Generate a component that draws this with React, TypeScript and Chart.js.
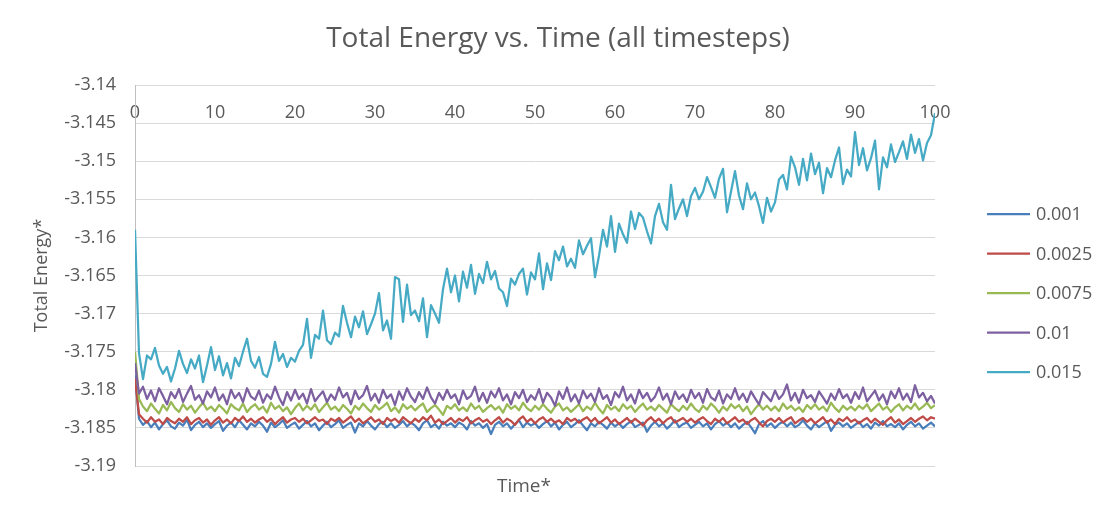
import { useEffect, useRef } from "react";
import Chart from "chart.js/auto";

// Excel-style line chart: total energy against time for five timesteps.
// Every series is sampled every half time unit, t = 0 ... 100 (201 points).
const TIME_STEP = 0.5;
const X_MIN = 0;
const X_MAX = 100;
const X_STEP = 10;
const Y_MIN = -3.19;
const Y_MAX = -3.14;
const Y_STEP = 0.005;

const TITLE = "Total Energy vs. Time (all timesteps)";
const X_TITLE = "Time*";
const Y_TITLE = "Total Energy*";
const SERIES_LABELS = ["0.001", "0.0025", "0.0075", "0.01", "0.015"];

const E_0001 = [
  -3.1780, -3.1838, -3.1846, -3.1841, -3.1849, -3.1843, -3.1852, -3.1845, -3.1840, -3.1848,
  -3.1851, -3.1843, -3.1847, -3.1839, -3.1853, -3.1846, -3.1842, -3.1849, -3.1844, -3.1850,
  -3.1845, -3.1841, -3.1854, -3.1847, -3.1843, -3.1849, -3.1840, -3.1846, -3.1852, -3.1844,
  -3.1848, -3.1842, -3.1847, -3.1855, -3.1843, -3.1849, -3.1845, -3.1840, -3.1850, -3.1846,
  -3.1843, -3.1851, -3.1846, -3.1841, -3.1848, -3.1844, -3.1853, -3.1847, -3.1842, -3.1849,
  -3.1845, -3.1840, -3.1850, -3.1846, -3.1843, -3.1856, -3.1844, -3.1848, -3.1841, -3.1847,
  -3.1852, -3.1845, -3.1842, -3.1849, -3.1844, -3.1850, -3.1846, -3.1841, -3.1848, -3.1843,
  -3.1847, -3.1853, -3.1844, -3.1840, -3.1849, -3.1845, -3.1851, -3.1842, -3.1847, -3.1844,
  -3.1849, -3.1843, -3.1846, -3.1852, -3.1841, -3.1847, -3.1844, -3.1850, -3.1845, -3.1858,
  -3.1846, -3.1842, -3.1848, -3.1844, -3.1851, -3.1845, -3.1840, -3.1849, -3.1843, -3.1847,
  -3.1844, -3.1850, -3.1845, -3.1841, -3.1848, -3.1843, -3.1852, -3.1846, -3.1842, -3.1849,
  -3.1845, -3.1840, -3.1847, -3.1853, -3.1844, -3.1848, -3.1842, -3.1846, -3.1851, -3.1843,
  -3.1848, -3.1844, -3.1850, -3.1845, -3.1841, -3.1849, -3.1846, -3.1843, -3.1855, -3.1847,
  -3.1842, -3.1848, -3.1844, -3.1851, -3.1846, -3.1840, -3.1849, -3.1845, -3.1843, -3.1850,
  -3.1846, -3.1842, -3.1848, -3.1844, -3.1852, -3.1845, -3.1841, -3.1847, -3.1843, -3.1849,
  -3.1844, -3.1851, -3.1846, -3.1842, -3.1849, -3.1857, -3.1845, -3.1841, -3.1848, -3.1844,
  -3.1850, -3.1845, -3.1842, -3.1848, -3.1843, -3.1849, -3.1846, -3.1840, -3.1847, -3.1852,
  -3.1844, -3.1849, -3.1845, -3.1841, -3.1854, -3.1846, -3.1843, -3.1848, -3.1844, -3.1850,
  -3.1846, -3.1842, -3.1849, -3.1845, -3.1851, -3.1843, -3.1847, -3.1841, -3.1848, -3.1845,
  -3.1849, -3.1844, -3.1852, -3.1846, -3.1842, -3.1848, -3.1844, -3.1851, -3.1847, -3.1843,
  -3.1848,
];

const E_00025 = [
  -3.1785, -3.1832, -3.1838, -3.1843, -3.1836, -3.1842, -3.1839, -3.1845, -3.1837, -3.1841,
  -3.1844, -3.1838, -3.1842, -3.1836, -3.1845, -3.1840, -3.1837, -3.1843, -3.1839, -3.1846,
  -3.1840, -3.1836, -3.1843, -3.1839, -3.1844, -3.1837, -3.1841, -3.1835, -3.1842, -3.1838,
  -3.1843, -3.1839, -3.1836, -3.1842, -3.1838, -3.1845, -3.1840, -3.1836, -3.1843, -3.1839,
  -3.1837, -3.1842, -3.1838, -3.1844, -3.1840, -3.1836, -3.1841, -3.1839, -3.1845, -3.1838,
  -3.1841, -3.1837, -3.1843, -3.1839, -3.1835, -3.1842, -3.1838, -3.1844, -3.1840, -3.1836,
  -3.1842, -3.1839, -3.1845, -3.1837, -3.1841, -3.1838, -3.1843, -3.1836, -3.1840, -3.1844,
  -3.1838, -3.1842, -3.1836, -3.1840, -3.1834, -3.1843, -3.1839, -3.1845, -3.1841, -3.1837,
  -3.1843, -3.1838, -3.1841, -3.1836, -3.1844, -3.1840, -3.1837, -3.1842, -3.1839, -3.1845,
  -3.1840, -3.1836, -3.1843, -3.1838, -3.1841, -3.1846, -3.1839, -3.1835, -3.1842, -3.1838,
  -3.1844, -3.1839, -3.1836, -3.1842, -3.1838, -3.1843, -3.1840, -3.1845, -3.1837, -3.1841,
  -3.1838, -3.1843, -3.1839, -3.1836, -3.1842, -3.1837, -3.1844, -3.1840, -3.1836, -3.1843,
  -3.1839, -3.1845, -3.1841, -3.1837, -3.1843, -3.1838, -3.1842, -3.1847, -3.1840, -3.1836,
  -3.1842, -3.1838, -3.1844, -3.1839, -3.1836, -3.1843, -3.1840, -3.1837, -3.1842, -3.1838,
  -3.1843, -3.1839, -3.1836, -3.1841, -3.1845, -3.1838, -3.1842, -3.1837, -3.1844, -3.1840,
  -3.1836, -3.1842, -3.1839, -3.1845, -3.1840, -3.1837, -3.1843, -3.1848, -3.1841, -3.1838,
  -3.1842, -3.1837, -3.1843, -3.1839, -3.1836, -3.1844, -3.1840, -3.1837, -3.1842, -3.1838,
  -3.1844, -3.1840, -3.1836, -3.1843, -3.1839, -3.1845, -3.1838, -3.1841, -3.1836, -3.1842,
  -3.1839, -3.1844, -3.1840, -3.1837, -3.1843, -3.1838, -3.1842, -3.1846, -3.1840, -3.1836,
  -3.1843, -3.1839, -3.1845, -3.1841, -3.1837, -3.1842, -3.1838, -3.1835, -3.1840, -3.1836,
  -3.1838,
];

const E_00075 = [
  -3.1750, -3.1812, -3.1822, -3.1828, -3.1818, -3.1825, -3.1831, -3.1820, -3.1827, -3.1816,
  -3.1824, -3.1829, -3.1819, -3.1826, -3.1821, -3.1830, -3.1823, -3.1817, -3.1826, -3.1822,
  -3.1828, -3.1820, -3.1825, -3.1831, -3.1819, -3.1824, -3.1827, -3.1818, -3.1829, -3.1823,
  -3.1819, -3.1826, -3.1822, -3.1830, -3.1817, -3.1825, -3.1821, -3.1828, -3.1823, -3.1832,
  -3.1824, -3.1818, -3.1827, -3.1821, -3.1826, -3.1819, -3.1829, -3.1823, -3.1817, -3.1826,
  -3.1822, -3.1828, -3.1820, -3.1825, -3.1831, -3.1821, -3.1826, -3.1818, -3.1824, -3.1829,
  -3.1820, -3.1826, -3.1822, -3.1817, -3.1828, -3.1823, -3.1830, -3.1819, -3.1825, -3.1821,
  -3.1827, -3.1822, -3.1818, -3.1829, -3.1824, -3.1820, -3.1826, -3.1833, -3.1821, -3.1825,
  -3.1819, -3.1827, -3.1823, -3.1828, -3.1818, -3.1825, -3.1821, -3.1829, -3.1824, -3.1820,
  -3.1826, -3.1822, -3.1830, -3.1819, -3.1825, -3.1821, -3.1827, -3.1817, -3.1824, -3.1828,
  -3.1821, -3.1826, -3.1819, -3.1825, -3.1830, -3.1822, -3.1818, -3.1827, -3.1823, -3.1829,
  -3.1824, -3.1819, -3.1828, -3.1822, -3.1826, -3.1817, -3.1825, -3.1831, -3.1820, -3.1826,
  -3.1822, -3.1828, -3.1819, -3.1825, -3.1821, -3.1829, -3.1823, -3.1818, -3.1826, -3.1822,
  -3.1827, -3.1820, -3.1825, -3.1830, -3.1819, -3.1824, -3.1828, -3.1821, -3.1826, -3.1818,
  -3.1825, -3.1829, -3.1821, -3.1826, -3.1818, -3.1823, -3.1830, -3.1822, -3.1827, -3.1819,
  -3.1824, -3.1820, -3.1828, -3.1822, -3.1832, -3.1825, -3.1819, -3.1826, -3.1821, -3.1827,
  -3.1822, -3.1828, -3.1818, -3.1825, -3.1821, -3.1827, -3.1823, -3.1829, -3.1820, -3.1825,
  -3.1819, -3.1826, -3.1822, -3.1828, -3.1817, -3.1824, -3.1829, -3.1821, -3.1826, -3.1822,
  -3.1827, -3.1821, -3.1825, -3.1819, -3.1828, -3.1823, -3.1818, -3.1826, -3.1822, -3.1829,
  -3.1823, -3.1819, -3.1827, -3.1821, -3.1825, -3.1818, -3.1826, -3.1822, -3.1817, -3.1824,
  -3.1820,
];

const E_001 = [
  -3.1765, -3.1805, -3.1796, -3.1812, -3.1801, -3.1815, -3.1798, -3.1808, -3.1819, -3.1803,
  -3.1811, -3.1799, -3.1816, -3.1805, -3.1795, -3.1813, -3.1807, -3.1818, -3.1802, -3.1810,
  -3.1797, -3.1814, -3.1806, -3.1819, -3.1800, -3.1811, -3.1804, -3.1816, -3.1798, -3.1809,
  -3.1813, -3.1801, -3.1817, -3.1806, -3.1812, -3.1796, -3.1810, -3.1820, -3.1803, -3.1814,
  -3.1800, -3.1812, -3.1805, -3.1818, -3.1799, -3.1815, -3.1808, -3.1802, -3.1816, -3.1806,
  -3.1813, -3.1797, -3.1810, -3.1804, -3.1819, -3.1801, -3.1812, -3.1807, -3.1795, -3.1814,
  -3.1805, -3.1817, -3.1800, -3.1811, -3.1806, -3.1820, -3.1802, -3.1813, -3.1798, -3.1809,
  -3.1816, -3.1803, -3.1812, -3.1797, -3.1810, -3.1818, -3.1804, -3.1813, -3.1800, -3.1811,
  -3.1806, -3.1819, -3.1801, -3.1812, -3.1808, -3.1796, -3.1815, -3.1804, -3.1817, -3.1802,
  -3.1810, -3.1798, -3.1814, -3.1806, -3.1819, -3.1803, -3.1811, -3.1800, -3.1816, -3.1807,
  -3.1813, -3.1799, -3.1817, -3.1804, -3.1810, -3.1821, -3.1802, -3.1812, -3.1797, -3.1815,
  -3.1806, -3.1818, -3.1801, -3.1811, -3.1805, -3.1816, -3.1798, -3.1812, -3.1807, -3.1820,
  -3.1803, -3.1810, -3.1796, -3.1814, -3.1806, -3.1818, -3.1800, -3.1811, -3.1804, -3.1815,
  -3.1809, -3.1797, -3.1813, -3.1805, -3.1819, -3.1802, -3.1812, -3.1806, -3.1816, -3.1800,
  -3.1811, -3.1804, -3.1817, -3.1799, -3.1810, -3.1814, -3.1801, -3.1818, -3.1806, -3.1812,
  -3.1798, -3.1813, -3.1805, -3.1816, -3.1802, -3.1811, -3.1819, -3.1803, -3.1809, -3.1815,
  -3.1801, -3.1812, -3.1806, -3.1793, -3.1814, -3.1804, -3.1817, -3.1800, -3.1811, -3.1807,
  -3.1816, -3.1802, -3.1810, -3.1818, -3.1805, -3.1813, -3.1799, -3.1811, -3.1806, -3.1817,
  -3.1803, -3.1812, -3.1797, -3.1815, -3.1808, -3.1801, -3.1814, -3.1806, -3.1819, -3.1802,
  -3.1811, -3.1798, -3.1813, -3.1805, -3.1816, -3.1794, -3.1810, -3.1804, -3.1815, -3.1808,
  -3.1818,
];

const E_0015 = [
  -3.1590, -3.1752, -3.1786, -3.1755, -3.1760, -3.1745, -3.1768, -3.1779, -3.1770, -3.1789,
  -3.1772, -3.1749, -3.1766, -3.1778, -3.1760, -3.1772, -3.1755, -3.1790, -3.1768, -3.1744,
  -3.1774, -3.1756, -3.1781, -3.1765, -3.1785, -3.1758, -3.1769, -3.1750, -3.1733, -3.1762,
  -3.1771, -3.1757, -3.1779, -3.1783, -3.1766, -3.1737, -3.1762, -3.1753, -3.1770, -3.1758,
  -3.1763, -3.1749, -3.1741, -3.1707, -3.1758, -3.1728, -3.1733, -3.1696, -3.1735, -3.1740,
  -3.1725, -3.1730, -3.1690, -3.1712, -3.1731, -3.1704, -3.1718, -3.1697, -3.1727, -3.1714,
  -3.1700, -3.1673, -3.1722, -3.1709, -3.1733, -3.1652, -3.1655, -3.1711, -3.1662, -3.1702,
  -3.1696, -3.1710, -3.1680, -3.1731, -3.1689, -3.1700, -3.1712, -3.1668, -3.1641, -3.1672,
  -3.1650, -3.1684, -3.1645, -3.1666, -3.1636, -3.1674, -3.1648, -3.1660, -3.1632, -3.1655,
  -3.1644, -3.1667, -3.1672, -3.1690, -3.1654, -3.1662, -3.1648, -3.1641, -3.1675, -3.1646,
  -3.1655, -3.1621, -3.1668, -3.1634, -3.1656, -3.1618, -3.1630, -3.1612, -3.1638, -3.1628,
  -3.1640, -3.1604, -3.1622, -3.1611, -3.1601, -3.1652, -3.1624, -3.1590, -3.1612, -3.1572,
  -3.1619, -3.1582, -3.1596, -3.1607, -3.1566, -3.1589, -3.1568, -3.1574, -3.1592, -3.1608,
  -3.1572, -3.1556, -3.1580, -3.1590, -3.1531, -3.1576, -3.1562, -3.1550, -3.1572, -3.1546,
  -3.1535, -3.1550, -3.1540, -3.1521, -3.1534, -3.1548, -3.1523, -3.1510, -3.1567, -3.1540,
  -3.1513, -3.1545, -3.1563, -3.1529, -3.1550, -3.1541, -3.1559, -3.1581, -3.1548, -3.1566,
  -3.1554, -3.1524, -3.1518, -3.1537, -3.1494, -3.1508, -3.1531, -3.1497, -3.1525, -3.1490,
  -3.1517, -3.1502, -3.1542, -3.1509, -3.1521, -3.1499, -3.1482, -3.1530, -3.1511, -3.1520,
  -3.1462, -3.1505, -3.1483, -3.1512, -3.1496, -3.1473, -3.1537, -3.1495, -3.1508, -3.1478,
  -3.1501, -3.1488, -3.1474, -3.1497, -3.1465, -3.1489, -3.1471, -3.1499, -3.1476, -3.1466,
  -3.1437,
];

const SERIES_VALUES = [E_0001, E_00025, E_00075, E_001, E_0015];
const SERIES_COLORS = ["#4A7EBB", "#BE4B48", "#98B954", "#7D60A0", "#46AAC5"];

const FONT = "'Open Sans', 'Noto Sans', sans-serif";
const TEXT_COLOR = "#595959";

// title, legend and the horizontal axis caption, drawn Excel-style around the plot
const decorPlugin = {
  id: "excelDecor",
  afterDraw(chart: any) {
    const { ctx, chartArea } = chart;
    ctx.save();
    ctx.fillStyle = TEXT_COLOR;
    ctx.textBaseline = "middle";

    ctx.textAlign = "center";
    ctx.font = `28px ${FONT}`;
    ctx.fillText(TITLE, 558, 39);

    ctx.font = `19px ${FONT}`;
    ctx.fillText(X_TITLE, (chartArea.left + chartArea.right) / 2 - 11, chartArea.bottom + 21);

    ctx.textAlign = "left";
    ctx.font = `18px ${FONT}`;
    chart.data.datasets.forEach((ds: any, i: number) => {
      const y = 214 + i * 39.5;
      ctx.strokeStyle = ds.borderColor;
      ctx.lineWidth = 2.25;
      ctx.beginPath();
      ctx.moveTo(chartArea.right + 52, y);
      ctx.lineTo(chartArea.right + 95, y);
      ctx.stroke();
      ctx.fillText(ds.label, chartArea.right + 101, y + 1);
    });
    ctx.restore();
  },
};

export default function App() {
  const chartRef = useRef<HTMLCanvasElement>(null);
  const chartInstance = useRef<Chart | null>(null);

  useEffect(() => {
    if (!chartRef.current) return;
    const ctx = chartRef.current.getContext("2d");
    if (!ctx) return;

    if (chartInstance.current) {
      chartInstance.current.destroy();
    }

    chartInstance.current = new Chart(ctx, {
      type: "line",
      data: {
        datasets: SERIES_LABELS.map((label, i) => ({
          label,
          data: SERIES_VALUES[i].map((v, k) => ({ x: k * TIME_STEP, y: v })),
          borderColor: SERIES_COLORS[i],
          backgroundColor: SERIES_COLORS[i],
          borderWidth: 2.25,
          borderJoinStyle: "round",
          pointRadius: 0,
          tension: 0,
          // Excel paints the last series on top
          order: SERIES_LABELS.length - i,
        })),
      },
      options: {
        animation: false,
        responsive: true,
        maintainAspectRatio: false,
        layout: { padding: { top: 85, right: 170, bottom: 55, left: 0 } },
        plugins: {
          legend: { display: false },
          title: { display: false },
          tooltip: { enabled: false },
        },
        scales: {
          x: {
            type: "linear",
            position: { y: Y_MAX },
            min: X_MIN,
            max: X_MAX,
            grid: { display: false, drawTicks: false },
            border: { display: false },
            ticks: {
              stepSize: X_STEP,
              padding: 17,
              maxRotation: 0,
              autoSkip: false,
              color: TEXT_COLOR,
              font: { family: FONT, size: 18 },
            },
          },
          y: {
            type: "linear",
            min: Y_MIN,
            max: Y_MAX,
            afterFit: (scale: any) => {
              scale.width = 135;
            },
            grid: { color: "#D9D9D9", drawTicks: false },
            border: { color: "#BFBFBF" },
            ticks: {
              stepSize: Y_STEP,
              padding: 19,
              color: TEXT_COLOR,
              font: { family: FONT, size: 18 },
              callback: (value: any) => String(Number(Number(value).toFixed(3))),
            },
            title: {
              display: true,
              text: Y_TITLE,
              color: TEXT_COLOR,
              font: { family: FONT, size: 18 },
              padding: { top: 31, bottom: 0 },
            },
          },
        },
      },
      plugins: [decorPlugin],
    });

    return () => {
      if (chartInstance.current) {
        chartInstance.current.destroy();
        chartInstance.current = null;
      }
    };
  }, []);

  return (
    <div style={{ position: "absolute", left: 0, top: 0, width: 1105, height: 521, background: "#fff" }}>
      <canvas ref={chartRef}></canvas>
    </div>
  );
}
